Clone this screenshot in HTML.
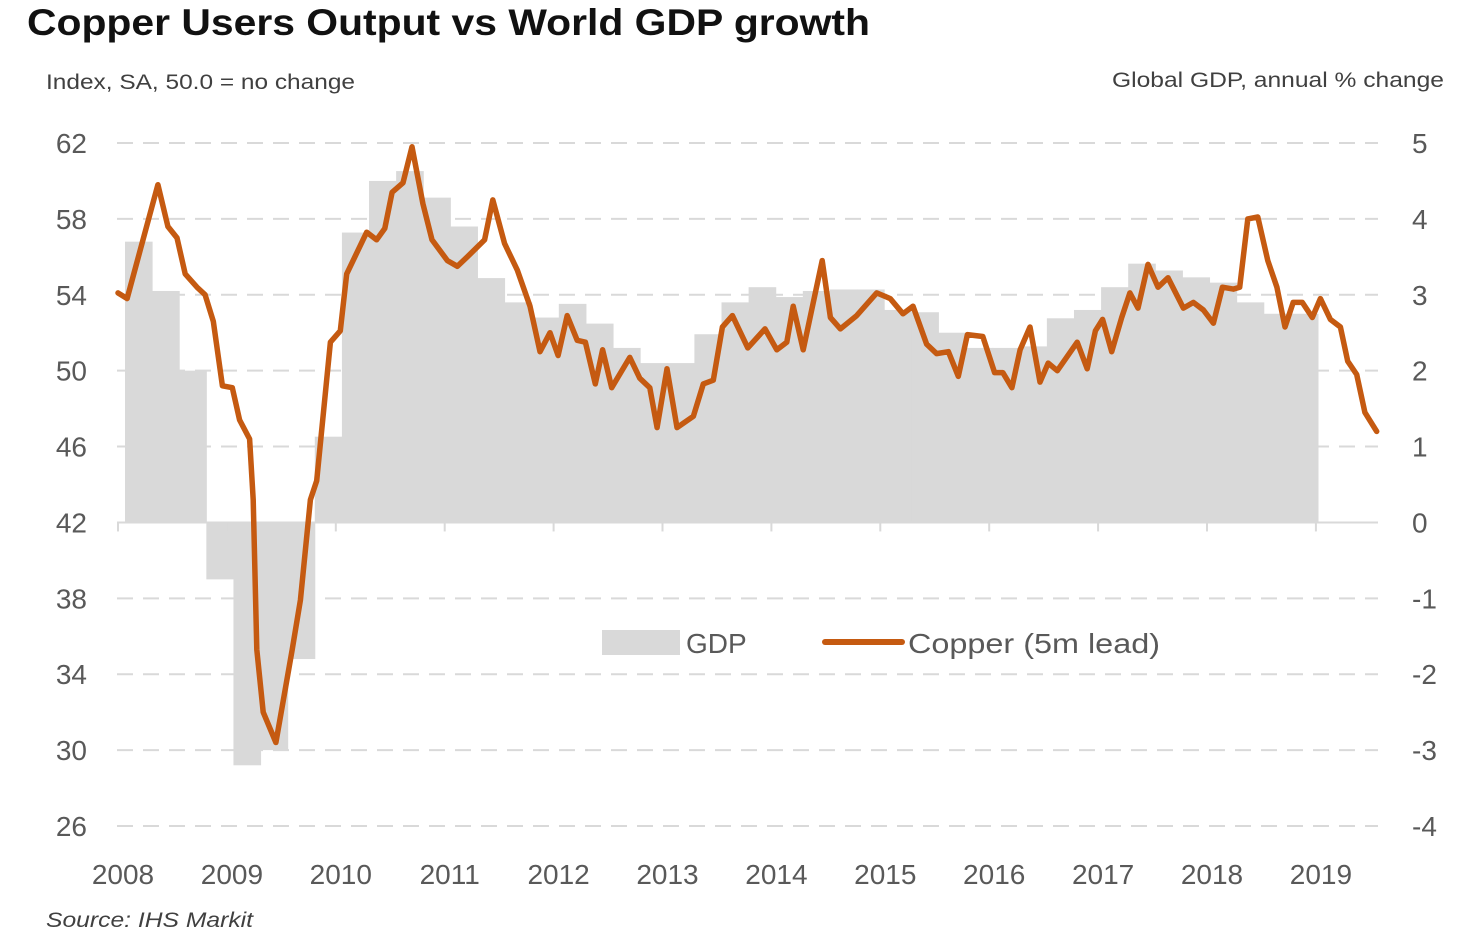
<!DOCTYPE html>
<html><head><meta charset="utf-8"><style>
body{margin:0;background:#fff;}
svg{display:block;font-family:"Liberation Sans",sans-serif;}
</style></head><body>
<svg id="chart" width="1473" height="938" viewBox="0 0 1473 938">
<text x="27" y="35" font-size="37" font-weight="bold" fill="#111" textLength="843" lengthAdjust="spacingAndGlyphs">Copper Users Output vs World GDP growth</text>
<text x="46" y="89" font-size="21" fill="#404040" textLength="309" lengthAdjust="spacingAndGlyphs">Index, SA, 50.0 = no change</text>
<text x="1112" y="87" font-size="21" fill="#404040" textLength="332" lengthAdjust="spacingAndGlyphs">Global GDP, annual % change</text>
<g id="grid"></g><g id="bars"></g><g id="axis"></g><g id="line"></g><g id="labels"></g>
<g>
<rect x="602" y="630" width="78" height="25" fill="#d9d9d9"/>
<text x="686" y="653" font-size="28" fill="#595959">GDP</text>
<line x1="825" y1="642" x2="902" y2="642" stroke="#c55a11" stroke-width="6" stroke-linecap="round"/>
<text x="908" y="653" font-size="28" fill="#595959" textLength="252" lengthAdjust="spacingAndGlyphs">Copper (5m lead)</text>
</g>
<text x="46" y="927" font-size="21" font-style="italic" fill="#404040" textLength="207" lengthAdjust="spacingAndGlyphs">Source: IHS Markit</text>
</svg>
<script>
const leftTicks=[62,58,54,50,46,42,38,34,30,26];
const rightTicks=[5,4,3,2,1,0,-1,-2,-3,-4];
const years=[2008,2009,2010,2011,2012,2013,2014,2015,2016,2017,2018,2019];
const gdpValues=[3.7,3.05,2.0,-0.75,-3.2,-3.0,-1.8,1.13,3.82,4.5,4.63,4.28,3.9,3.22,2.9,2.7,2.88,2.62,2.3,2.1,2.1,2.48,2.9,3.1,2.97,3.05,3.07,3.07,2.8,2.77,2.5,2.3,2.3,2.32,2.69,2.8,3.1,3.41,3.32,3.23,3.16,2.9,2.75,2.75];
const copperMonths=[0,1,4.4,5.5,6.5,7.4,8.7,9.6,10.5,11.5,12.6,13.4,14.5,14.9,15.3,16.0,17.4,19.2,20.1,21.2,21.9,23.4,24.5,25.2,27.4,28.5,29.4,30.2,31.4,32.4,33.6,34.6,36.3,37.4,38.5,40.4,41.3,42.6,44.0,45.4,46.5,47.6,48.5,49.5,50.6,51.5,52.6,53.4,54.4,56.4,57.5,58.6,59.4,60.5,61.6,63.4,64.5,65.6,66.6,67.7,69.4,71.3,72.6,73.7,74.4,75.5,77.6,78.5,79.6,81.4,83.6,85.1,86.5,87.6,89.1,90.2,91.5,92.6,93.6,95.3,96.6,97.5,98.5,99.4,100.5,101.6,102.5,103.5,105.7,106.8,107.7,108.5,109.5,110.6,111.5,112.4,113.5,114.6,115.7,117.4,118.5,119.6,120.7,121.7,122.9,123.6,124.5,125.6,126.7,127.7,128.6,129.5,130.5,131.6,132.5,133.6,134.7,135.5,136.5,137.4,138.7];
const copperValues=[54.1,53.8,59.8,57.6,57.0,55.1,54.4,54.0,52.6,49.2,49.1,47.4,46.4,43.2,35.3,32.0,30.4,35.3,37.9,43.2,44.2,51.5,52.1,55.1,57.3,56.9,57.5,59.4,59.9,61.8,58.8,56.9,55.8,55.5,56.0,56.9,59.0,56.7,55.3,53.4,51.0,52.0,50.8,52.9,51.6,51.5,49.3,51.1,49.1,50.7,49.6,49.1,47.0,50.1,47.0,47.6,49.3,49.5,52.3,52.9,51.2,52.2,51.1,51.5,53.4,51.1,55.8,52.8,52.2,52.9,54.1,53.8,53.0,53.4,51.4,50.9,51.0,49.7,51.9,51.8,49.9,49.9,49.1,51.1,52.3,49.4,50.4,50.0,51.5,50.1,52.1,52.7,51.0,52.8,54.1,53.3,55.6,54.4,54.9,53.3,53.6,53.2,52.5,54.4,54.3,54.4,58.0,58.1,55.8,54.4,52.3,53.6,53.6,52.8,53.8,52.7,52.3,50.5,49.8,47.8,46.8];

const NS='http://www.w3.org/2000/svg';
const X0=118,YW=108.9;
const xYear=y=>X0+(y-2008)*YW;
const xMonth=m=>X0+m*YW/12;
const yL=v=>143+(62-v)*(826-143)/36;
const yR=v=>143+(5-v)*(826-143)/9;
const barX=i=>125+i*(1318-125)/gdpValues.length;
function mk(tag,attrs,parent){const e=document.createElementNS(NS,tag);for(const k in attrs)e.setAttribute(k,attrs[k]);parent.appendChild(e);return e;}
const grid=document.getElementById('grid'),bars=document.getElementById('bars'),axis=document.getElementById('axis'),line=document.getElementById('line'),labels=document.getElementById('labels');

leftTicks.forEach((t,i)=>{
  const y=yL(t);
  if(t!==42){const g=mk('line',{x1:117,x2:1378,y1:y,y2:y,stroke:'#d9d9d9','stroke-width':2,'stroke-dasharray':'16 10'},grid);
  
  }
  const lt=mk('text',{x:87,y:y+10,'font-size':28,fill:'#595959','text-anchor':'end'},labels);
  lt.textContent=t;
  
  
});
rightTicks.forEach(t=>{
  const rt=mk('text',{x:1412,y:yR(t)+10,'font-size':28,fill:'#595959'},labels);
  rt.textContent=t;
  
  
});
gdpValues.forEach((v,i)=>{
  const xa=barX(i),xb=barX(i+1);
  const y0=yR(0),y1=yR(v);
  const r=mk('rect',{x:xa,width:xb-xa+0.5,y:Math.min(y0,y1),height:Math.abs(y1-y0),fill:'#d9d9d9'},bars);
  
  
});
const ax=mk('line',{x1:117,x2:1378,y1:yR(0),y2:yR(0),stroke:'#d9d9d9','stroke-width':2},axis);


years.forEach(yr=>{
  const x=xYear(yr);
  const tk=mk('line',{x1:x,x2:x,y1:yR(0),y2:yR(0)+9,stroke:'#d9d9d9','stroke-width':2},axis);
  
  
  const t=mk('text',{x:x+5,y:884,'font-size':28,fill:'#595959','text-anchor':'middle'},labels);
  t.textContent=yr;
  
  
});
const d=copperValues.map((v,i)=>(i?'L':'M')+xMonth(copperMonths[i]).toFixed(1)+' '+yL(v).toFixed(1)).join(' ');
const p=mk('path',{d:d,fill:'none',stroke:'#c55a11','stroke-width':5.5,'stroke-linejoin':'round','stroke-linecap':'round'},line);


</script>
</body></html>
